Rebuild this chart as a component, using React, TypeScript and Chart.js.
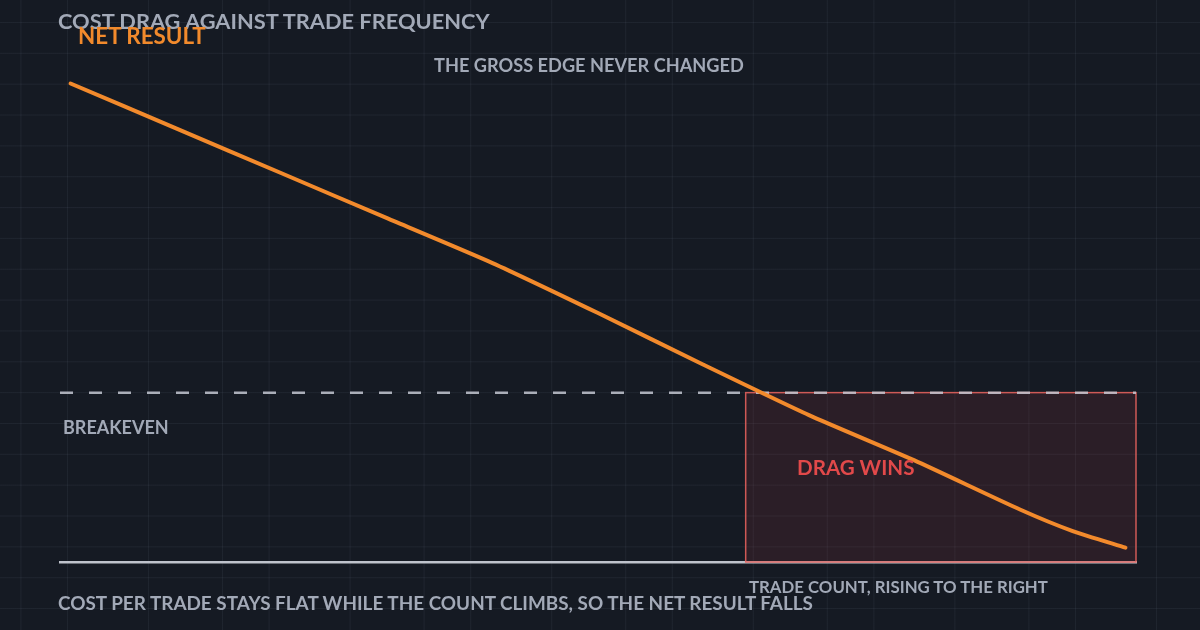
import React, { useEffect, useRef } from 'react';
import { Chart, registerables } from 'chart.js';

Chart.register(...registerables);

// trade count (arbitrary units, rising to the right) and the net result it leaves
const TRADE_COUNT = [0, 10, 20, 30, 40, 50, 60, 70, 80, 90, 95, 100];
const NET_RESULT = [73, 62.4, 51.8, 41.2, 30.6, 18.8, 6.6, -5.3, -16.0, -27.6, -32.7, -36.6];
const BREAKEVEN = 0;
const DRAG_ZONE_START = 64;
const X_RANGE = [-1, 101];
const Y_RANGE = [-40, 88];

const BG = '#151a23';
const GRID = 'rgba(148, 160, 184, 0.08)';
const TEXT = '#a2a9b7';
const ORANGE = '#f28a2c';
const RED = '#e2494a';
const FONT = 'Lato, "Open Sans", sans-serif';

const dragZonePlugin = {
  id: 'dragZone',
  beforeDatasetsDraw(chart: Chart) {
    const { ctx, scales } = chart;
    const x = scales.x;
    const y = scales.y;
    const left = x.getPixelForValue(DRAG_ZONE_START);
    const right = x.getPixelForValue(X_RANGE[1]);
    const top = y.getPixelForValue(BREAKEVEN);
    const bottom = y.getPixelForValue(Y_RANGE[0]);
    ctx.save();
    ctx.fillStyle = 'rgba(190, 60, 72, 0.13)';
    ctx.fillRect(left, top, right - left, bottom - top);
    ctx.strokeStyle = 'rgba(226, 96, 92, 0.9)';
    ctx.lineWidth = 1.5;
    ctx.strokeRect(left, top, right - left, bottom - top);
    ctx.restore();
  },
};

const label = (
  text: string,
  left: number,
  top: number,
  size: number,
  color: string = TEXT,
): React.ReactNode => (
  <div
    style={{
      position: 'absolute',
      left,
      top,
      fontFamily: FONT,
      fontWeight: 700,
      fontSize: size,
      lineHeight: 1,
      color,
      whiteSpace: 'nowrap',
    }}
  >
    {text}
  </div>
);

export default function App() {
  const chartRef = useRef<HTMLCanvasElement>(null);
  const chartInstance = useRef<Chart | null>(null);

  useEffect(() => {
    if (!chartRef.current) return;
    if (chartInstance.current) chartInstance.current.destroy();

    chartInstance.current = new Chart(chartRef.current, {
      type: 'line',
      data: {
        datasets: [
          {
            label: 'Net result',
            data: TRADE_COUNT.map((t, i) => ({ x: t, y: NET_RESULT[i] })),
            borderColor: ORANGE,
            borderWidth: 4,
            borderCapStyle: 'round',
            borderJoinStyle: 'round',
            pointRadius: 0,
            tension: 0.2,
            order: 0,
          },
          {
            label: 'Breakeven',
            data: [
              { x: X_RANGE[0], y: BREAKEVEN },
              { x: X_RANGE[1], y: BREAKEVEN },
            ],
            borderColor: 'rgba(196, 200, 210, 0.85)',
            borderWidth: 2.5,
            borderDash: [13, 16],
            pointRadius: 0,
            order: 1,
          },
        ],
      },
      options: {
        responsive: true,
        maintainAspectRatio: false,
        animation: false,
        layout: { padding: { left: 60, right: 64, top: 20, bottom: 60 } },
        plugins: {
          legend: { display: false },
          tooltip: { enabled: false },
        },
        scales: {
          x: {
            type: 'linear',
            min: X_RANGE[0],
            max: X_RANGE[1],
            grid: { display: false },
            ticks: { display: false },
            border: { display: true, color: '#bfc3cc', width: 2.5 },
          },
          y: {
            type: 'linear',
            min: Y_RANGE[0],
            max: Y_RANGE[1],
            display: false,
          },
        },
      },
      plugins: [dragZonePlugin],
    });

    return () => {
      if (chartInstance.current) {
        chartInstance.current.destroy();
        chartInstance.current = null;
      }
    };
  }, []);

  const gridLine = (dir: string) => `linear-gradient(${dir}, ${GRID} 1px, transparent 1px)`;

  return (
    <div
      style={{
        position: 'fixed',
        left: 0,
        top: 0,
        width: 1200,
        height: 630,
        overflow: 'hidden',
        backgroundColor: BG,
        backgroundImage: [
          gridLine('to bottom'),
          gridLine('to right'),
          gridLine('to right'),
          gridLine('to right'),
        ].join(', '),
        backgroundSize: '100% 30.85px, 201.6px 100%, 201.6px 100%, 201.6px 100%',
        backgroundPosition: '0 22px, 67px 0, 148px 0, 222px 0',
      }}
    >
      <div style={{ position: 'absolute', left: 0, top: 0, width: 1200, height: 630 }}>
        <canvas ref={chartRef}></canvas>
      </div>
      {label('COST DRAG AGAINST TRADE FREQUENCY', 58, 10, 21.8)}
      {label('NET RESULT', 78, 25, 22.4, ORANGE)}
      {label('THE GROSS EDGE NEVER CHANGED', 434, 56, 18.2)}
      {label('BREAKEVEN', 63, 418, 18)}
      {label('DRAG WINS', 797, 457, 20.6, RED)}
      {label('TRADE COUNT, RISING TO THE RIGHT', 749, 579, 16.8)}
      {label('COST PER TRADE STAYS FLAT WHILE THE COUNT CLIMBS, SO THE NET RESULT FALLS', 58, 594, 18.9)}
    </div>
  );
}
